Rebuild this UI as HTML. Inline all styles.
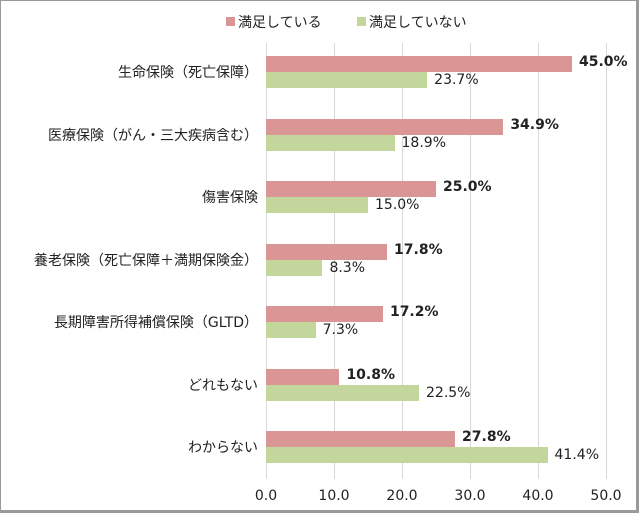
<html><head><style>
body{margin:0;background:#fff}
.w{position:relative;width:640px;height:514px;overflow:hidden;font-family:"DejaVu Sans","Noto Sans CJK JP",sans-serif;color:#222}
.b{position:absolute;left:0;top:0;width:635px;height:509px;border:1px solid #9a9a9a;border-right:3px solid #9a9a9a;border-bottom:3px solid #9a9a9a;box-sizing:content-box}
.g{position:absolute;top:43px;height:436px;width:1px;background:#d9d9d9}
.bar{position:absolute;left:266px;height:16px}
.p{background:#d99694}.q{background:#c3d69b}
.t{position:absolute;font-size:14px;white-space:nowrap}
.c{position:absolute;right:382px;font-size:14px;white-space:nowrap}
.x{position:absolute;top:488px;font-size:14px;width:50px;text-align:center}
</style></head><body><div class="w">
<div class="b"></div>
<div style="position:absolute;left:226px;top:17px;width:9px;height:9px;background:#d99694"></div>
<div class="t" style="left:238px;top:12px">満足している</div>
<div style="position:absolute;left:357px;top:17px;width:9px;height:9px;background:#c3d69b"></div>
<div class="t" style="left:369px;top:12px">満足していない</div>
<div class="g" style="left:266px"></div><div class="g" style="left:334px"></div><div class="g" style="left:402px"></div><div class="g" style="left:470px"></div><div class="g" style="left:538px"></div><div class="g" style="left:606px"></div>
<script>
var d=[["生命保険（死亡保障）",45.0,23.7],["医療保険（がん・三大疾病含む）",34.9,18.9],["傷害保険",25.0,15.0],["養老保険（死亡保障＋満期保険金）",17.8,8.3],["長期障害所得補償保険（GLTD）",17.2,7.3],["どれもない",10.8,22.5],["わからない",27.8,41.4]];
var h="";
d.forEach(function(r,i){var y=56+i*62.5;var a=r[1]*6.8,b=r[2]*6.8;
h+='<div class="c" style="top:'+(y+6)+'px">'+r[0]+'</div>';
h+='<div class="bar p" style="top:'+y+'px;width:'+a+'px"></div>';
h+='<div class="bar q" style="top:'+(y+16)+'px;width:'+b+'px"></div>';
h+='<div class="t" style="font-weight:bold;left:'+(266+a+7)+'px;top:'+(y-2)+'px">'+r[1].toFixed(1)+'%</div>';
h+='<div class="t" style="left:'+(266+b+7)+'px;top:'+(y+16)+'px">'+r[2].toFixed(1)+'%</div>';});
for(var k=0;k<=5;k++)h+='<div class="x" style="left:'+(266+k*68-25)+'px">'+(k*10).toFixed(1)+'</div>';
document.write(h);
</script>
</div></body></html>
